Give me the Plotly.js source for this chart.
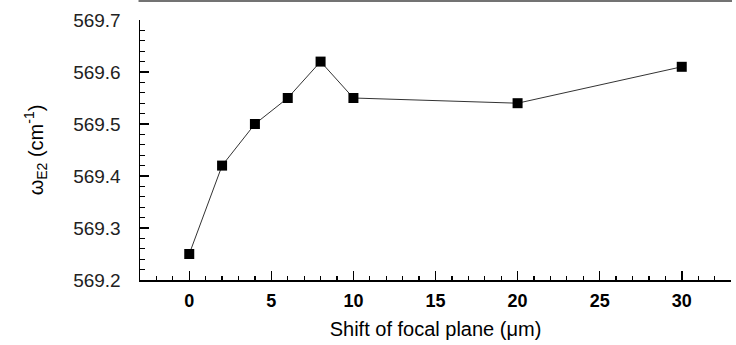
<!DOCTYPE html>
<html>
<head>
<meta charset="utf-8">
<script src="https://cdn.plot.ly/plotly-3.0.1.min.js"></script>
<style>
html,body{margin:0;padding:0;background:#fff;}
#chart{width:736px;height:345px;}
</style>
</head>
<body>
<div id="chart"></div>
<script>
// Data
const shiftUm = [0, 2, 4, 6, 8, 10, 20, 30];
const omegaE2 = [569.25, 569.42, 569.50, 569.55, 569.62, 569.55, 569.54, 569.61];

const xTitle = 'Shift of focal plane (\u03bcm)';
const yTitle = '\u03c9<sub>E2</sub> (cm<sup>-1</sup>)';

const trace = {
  x: shiftUm,
  y: omegaE2,
  type: 'scatter',
  mode: 'lines+markers',
  line: {color: '#333333', width: 1},
  marker: {symbol: 'square', size: 10, color: '#000000'},
  showlegend: false,
  cliponaxis: false
};

const layout = {
  width: 736,
  height: 345,
  autosize: false,
  margin: {l: 139.5, r: 5, t: 20, b: 65, pad: 0},
  paper_bgcolor: '#ffffff',
  plot_bgcolor: '#ffffff',
  font: {family: 'Liberation Sans, Arial, sans-serif', color: '#000000'},
  xaxis: {
    range: [-3, 33],
    tick0: 0,
    dtick: 5,
    ticks: 'inside',
    ticklen: 9,
    tickwidth: 1.5,
    tickcolor: '#000',
    showline: true,
    linecolor: '#000',
    linewidth: 1.5,
    showgrid: false,
    zeroline: false,
    ticklabelstandoff: 4,
    tickfont: {size: 18, family: 'Liberation Sans, Arial, sans-serif', weight: 'bold'},
    minor: {ticks: 'inside', ticklen: 4.5, dtick: 1, tickwidth: 1.2, tickcolor: '#000', showgrid: false},
    title: {text: xTitle, font: {size: 20}, standoff: 12}
  },
  yaxis: {
    range: [569.2, 569.7],
    tick0: 569.2,
    dtick: 0.1,
    tickformat: '.1f',
    ticks: 'inside',
    ticklen: 9,
    tickwidth: 1.5,
    tickcolor: '#000',
    showline: true,
    linecolor: '#000',
    linewidth: 1.5,
    showgrid: false,
    zeroline: false,
    ticklabelstandoff: 14,
    tickfont: {size: 19, color: '#222'},
    minor: {ticks: 'inside', ticklen: 4.5, dtick: 0.02, tickwidth: 1.2, tickcolor: '#000', showgrid: false},
    title: {text: yTitle, font: {size: 20}, standoff: 24}
  },
  shapes: [
    {type: 'line', xref: 'paper', yref: 'paper', x0: -0.0025, x1: 1.0017, y0: 1.073, y1: 1.073,
     line: {color: '#444', width: 1.5}}
  ]
};

Plotly.newPlot('chart', [trace], layout, {staticPlot: true, displayModeBar: false});
</script>
</body>
</html>
